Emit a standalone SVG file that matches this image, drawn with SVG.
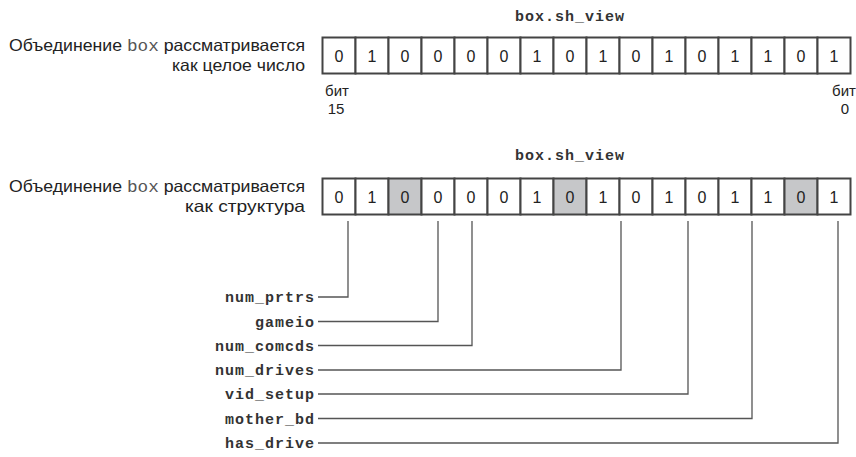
<svg xmlns="http://www.w3.org/2000/svg" width="856" height="457" viewBox="0 0 856 457">
<style>
.cell{fill:#fff;stroke:#444;stroke-width:2}
.g{fill:#c6c7c9}
.d{font-family:"Liberation Sans",Arial,sans-serif;font-size:16px;fill:#222;text-anchor:middle}
.lbl{font-family:"Liberation Sans",Arial,sans-serif;font-size:16.5px;fill:#222;text-anchor:end}
.m{font-family:"Liberation Mono","Courier New",monospace;fill:#555}
.t{font-family:"Liberation Mono","Courier New",monospace;font-weight:bold;font-size:15px;letter-spacing:1px;fill:#333}
.fl{font-family:"Liberation Mono","Courier New",monospace;font-weight:bold;font-size:15px;letter-spacing:1px;fill:#333;text-anchor:end}
.c{fill:none;stroke:#555;stroke-width:1.3}
.b{font-family:"Liberation Sans",Arial,sans-serif;font-size:15px;fill:#222;text-anchor:middle}
</style>
<rect width="856" height="457" fill="#fff"/>

<g id="row1">
<text class="t" x="570" y="21" text-anchor="middle">box.sh_view</text>
<text class="lbl" x="305" y="51" textLength="296" lengthAdjust="spacingAndGlyphs">Объединение <tspan class="m">box</tspan> рассматривается</text>
<text class="lbl" x="305" y="71" textLength="133" lengthAdjust="spacingAndGlyphs">как целое число</text>
<g>
<rect class="cell" x="322.5" y="37.5" width="33" height="36"/>
<rect class="cell" x="355.5" y="37.5" width="33" height="36"/>
<rect class="cell" x="388.5" y="37.5" width="33" height="36"/>
<rect class="cell" x="421.5" y="37.5" width="33" height="36"/>
<rect class="cell" x="454.5" y="37.5" width="33" height="36"/>
<rect class="cell" x="487.5" y="37.5" width="33" height="36"/>
<rect class="cell" x="520.5" y="37.5" width="33" height="36"/>
<rect class="cell" x="553.5" y="37.5" width="33" height="36"/>
<rect class="cell" x="586.5" y="37.5" width="33" height="36"/>
<rect class="cell" x="619.5" y="37.5" width="33" height="36"/>
<rect class="cell" x="652.5" y="37.5" width="33" height="36"/>
<rect class="cell" x="685.5" y="37.5" width="33" height="36"/>
<rect class="cell" x="718.5" y="37.5" width="33" height="36"/>
<rect class="cell" x="751.5" y="37.5" width="33" height="36"/>
<rect class="cell" x="784.5" y="37.5" width="33" height="36"/>
<rect class="cell" x="817.5" y="37.5" width="33" height="36"/>
</g>
<g>
<text class="d" x="339" y="62">0</text>
<text class="d" x="372" y="62">1</text>
<text class="d" x="405" y="62">0</text>
<text class="d" x="438" y="62">0</text>
<text class="d" x="471" y="62">0</text>
<text class="d" x="504" y="62">0</text>
<text class="d" x="537" y="62">1</text>
<text class="d" x="570" y="62">0</text>
<text class="d" x="603" y="62">1</text>
<text class="d" x="636" y="62">0</text>
<text class="d" x="669" y="62">1</text>
<text class="d" x="702" y="62">0</text>
<text class="d" x="735" y="62">1</text>
<text class="d" x="768" y="62">1</text>
<text class="d" x="801" y="62">0</text>
<text class="d" x="834" y="62">1</text>
</g>
<text class="b" x="337" y="96">бит</text>
<text class="b" x="336" y="114">15</text>
<text class="b" x="844" y="96">бит</text>
<text class="b" x="845" y="114">0</text>
</g>

<g id="row2">
<text class="t" x="570" y="160" text-anchor="middle">box.sh_view</text>
<text class="lbl" x="305" y="192" textLength="296" lengthAdjust="spacingAndGlyphs">Объединение <tspan class="m">box</tspan> рассматривается</text>
<text class="lbl" x="305" y="212" textLength="120" lengthAdjust="spacingAndGlyphs">как структура</text>
<g>
<rect class="cell" x="322.5" y="178.5" width="33" height="36"/>
<rect class="cell" x="355.5" y="178.5" width="33" height="36"/>
<rect class="cell g" x="388.5" y="178.5" width="33" height="36"/>
<rect class="cell" x="421.5" y="178.5" width="33" height="36"/>
<rect class="cell" x="454.5" y="178.5" width="33" height="36"/>
<rect class="cell" x="487.5" y="178.5" width="33" height="36"/>
<rect class="cell" x="520.5" y="178.5" width="33" height="36"/>
<rect class="cell g" x="553.5" y="178.5" width="33" height="36"/>
<rect class="cell" x="586.5" y="178.5" width="33" height="36"/>
<rect class="cell" x="619.5" y="178.5" width="33" height="36"/>
<rect class="cell" x="652.5" y="178.5" width="33" height="36"/>
<rect class="cell" x="685.5" y="178.5" width="33" height="36"/>
<rect class="cell" x="718.5" y="178.5" width="33" height="36"/>
<rect class="cell" x="751.5" y="178.5" width="33" height="36"/>
<rect class="cell g" x="784.5" y="178.5" width="33" height="36"/>
<rect class="cell" x="817.5" y="178.5" width="33" height="36"/>
</g>
<g>
<text class="d" x="339" y="203">0</text>
<text class="d" x="372" y="203">1</text>
<text class="d" x="405" y="203">0</text>
<text class="d" x="438" y="203">0</text>
<text class="d" x="471" y="203">0</text>
<text class="d" x="504" y="203">0</text>
<text class="d" x="537" y="203">1</text>
<text class="d" x="570" y="203">0</text>
<text class="d" x="603" y="203">1</text>
<text class="d" x="636" y="203">0</text>
<text class="d" x="669" y="203">1</text>
<text class="d" x="702" y="203">0</text>
<text class="d" x="735" y="203">1</text>
<text class="d" x="768" y="203">1</text>
<text class="d" x="801" y="203">0</text>
<text class="d" x="834" y="203">1</text>
</g>
</g>

<g id="connectors">
<path class="c" d="M348 221V297H318"/>
<path class="c" d="M438 221V321.5H318"/>
<path class="c" d="M472 221V345.5H318"/>
<path class="c" d="M621 221V370H318"/>
<path class="c" d="M688 221V394H318"/>
<path class="c" d="M752 221V418.5H318"/>
<path class="c" d="M838 221V443H318"/>
</g>

<g id="n-num_prtrs"><text class="fl" x="315" y="302">num_prtrs</text></g>
<g id="n-gameio"><text class="fl" x="315" y="326.5">gameio</text></g>
<g id="n-num_comcds"><text class="fl" x="315" y="350.5">num_comcds</text></g>
<g id="n-num_drives"><text class="fl" x="315" y="375">num_drives</text></g>
<g id="n-vid_setup"><text class="fl" x="315" y="399">vid_setup</text></g>
<g id="n-mother_bd"><text class="fl" x="315" y="423.5">mother_bd</text></g>
<g id="n-has_drive"><text class="fl" x="315" y="448">has_drive</text></g>
</svg>
